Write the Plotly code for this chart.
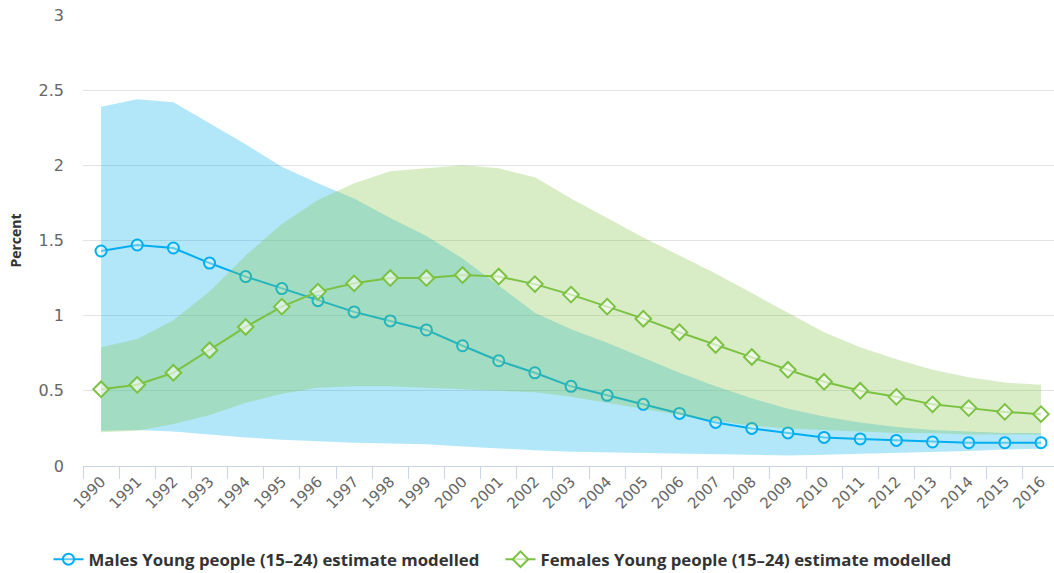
import plotly.graph_objects as go

years = [str(y) for y in range(1990, 2017)]

male_est = [1.43, 1.47, 1.45, 1.35, 1.26, 1.18, 1.10, 1.025, 0.965, 0.905, 0.80, 0.70, 0.62, 0.53, 0.47,
            0.41, 0.35, 0.29, 0.25, 0.22, 0.19, 0.18, 0.17, 0.16, 0.155, 0.155, 0.155]
male_upper = [2.39, 2.44, 2.42, 2.28, 2.14, 1.99, 1.88, 1.78, 1.65, 1.53, 1.38, 1.20, 1.02, 0.91, 0.82,
              0.72, 0.62, 0.53, 0.45, 0.38, 0.33, 0.29, 0.26, 0.24, 0.23, 0.22, 0.22]
male_lower = [0.235, 0.24, 0.23, 0.21, 0.19, 0.175, 0.165, 0.155, 0.15, 0.145, 0.13, 0.115, 0.105, 0.095,
              0.09, 0.085, 0.08, 0.075, 0.07, 0.07, 0.075, 0.08, 0.085, 0.095, 0.10, 0.11, 0.115]

female_est = [0.51, 0.54, 0.62, 0.77, 0.925, 1.06, 1.16, 1.215, 1.25, 1.25, 1.27, 1.26, 1.21, 1.14, 1.06,
              0.98, 0.89, 0.805, 0.725, 0.64, 0.56, 0.50, 0.46, 0.41, 0.385, 0.36, 0.345]
female_upper = [0.79, 0.845, 0.97, 1.16, 1.40, 1.61, 1.77, 1.88, 1.96, 1.98, 2.0, 1.98, 1.92, 1.78, 1.65,
                1.52, 1.40, 1.28, 1.15, 1.02, 0.89, 0.79, 0.71, 0.64, 0.59, 0.555, 0.54]
female_lower = [0.225, 0.235, 0.28, 0.34, 0.42, 0.48, 0.52, 0.53, 0.53, 0.52, 0.51, 0.50, 0.49, 0.46, 0.42,
                0.38, 0.34, 0.30, 0.27, 0.25, 0.24, 0.23, 0.22, 0.22, 0.21, 0.21, 0.21]

male_name = "Males Young people (15\u201324) estimate modelled"
female_name = "Females Young people (15\u201324) estimate modelled"

MALE = "#00aeef"
FEMALE = "#7cc242"

fig = go.Figure()

# Male band
fig.add_trace(go.Scatter(x=years, y=male_lower, mode="lines", line=dict(width=0),
                         showlegend=False, hoverinfo="skip"))
fig.add_trace(go.Scatter(x=years, y=male_upper, mode="lines", line=dict(width=0),
                         fill="tonexty", fillcolor="rgba(0,174,239,0.30)",
                         showlegend=False, hoverinfo="skip"))
# Male line
fig.add_trace(go.Scatter(x=years, y=male_est, mode="lines+markers", name=male_name,
                         line=dict(color=MALE, width=2),
                         marker=dict(symbol="circle", size=11, color="rgba(255,255,255,0.35)",
                                     line=dict(color=MALE, width=2))))
# Female band
fig.add_trace(go.Scatter(x=years, y=female_lower, mode="lines", line=dict(width=0),
                         showlegend=False, hoverinfo="skip"))
fig.add_trace(go.Scatter(x=years, y=female_upper, mode="lines", line=dict(width=0),
                         fill="tonexty", fillcolor="rgba(125,194,66,0.30)",
                         showlegend=False, hoverinfo="skip"))
# Female line
fig.add_trace(go.Scatter(x=years, y=female_est, mode="lines+markers", name=female_name,
                         line=dict(color=FEMALE, width=2),
                         marker=dict(symbol="diamond", size=12, color="rgba(255,255,255,0.6)",
                                     line=dict(color=FEMALE, width=2))))

fig.update_layout(
    width=1054, height=573,
    margin=dict(l=83, r=0, t=15, b=107, autoexpand=False),
    paper_bgcolor="white", plot_bgcolor="white",
    font=dict(family="DejaVu Sans", color="#666666"),
    showlegend=True,
    legend=dict(orientation="h", xref="container", yref="container", traceorder="normal",
                x=0.046, y=0.024, xanchor="left", yanchor="middle",
                font=dict(family="Open Sans", size=16.8, color="#333333", weight="bold"),
                entrywidth=407, bgcolor="rgba(0,0,0,0)"),
    xaxis=dict(type="category", range=[-0.5, 26.36], tickson="boundaries", automargin=False,
               ticks="outside", ticklen=12, tickcolor="#ccd6eb", tickwidth=1,
               showline=True, linecolor="#ccd6eb", linewidth=1,
               showgrid=False, zeroline=False, tickangle=-45,
               tickfont=dict(family="DejaVu Sans", size=15, color="#666666")),
    yaxis=dict(range=[0, 3], tickvals=[0, 0.5, 1, 1.5, 2, 2.5, 3], automargin=False,
               ticktext=["0", "0.5", "1", "1.5", "2", "2.5", "3"],
               showgrid=True, gridcolor="#e3e3e3", gridwidth=1, zeroline=False,
               showline=False, ticks="", ticklabelstandoff=18,
               tickfont=dict(family="DejaVu Sans", size=16, color="#666666"),
               title=dict(text="Percent", standoff=13,
                          font=dict(family="Open Sans", size=14, color="#333333", weight="bold"))),
)

fig.write_html("out.html", config={"displayModeBar": False},
               post_script="document.body.style.margin='0px';")
